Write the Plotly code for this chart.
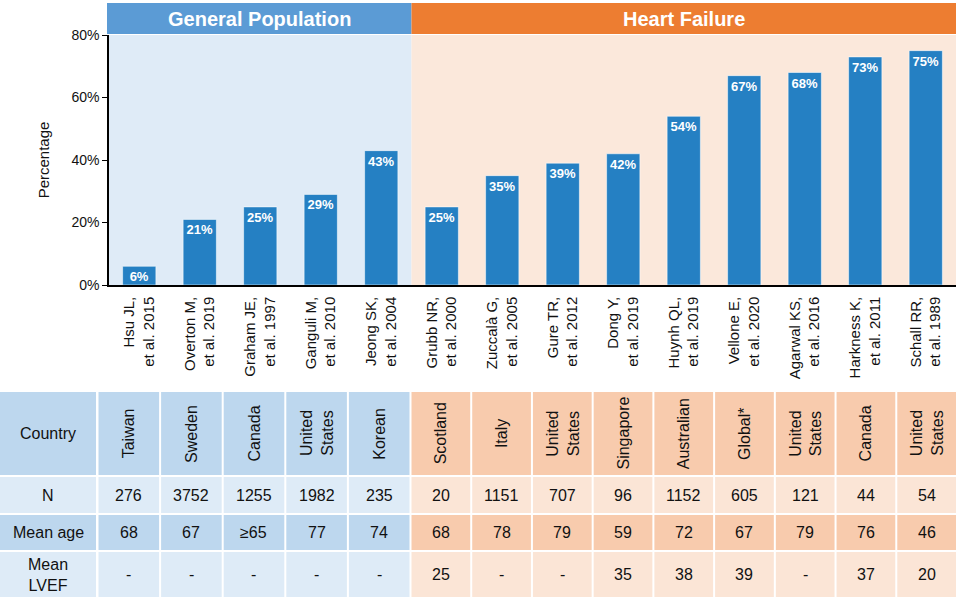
import plotly.graph_objects as go

# ---------------- data ----------------
authors = ["Hsu JL,", "Overton M,", "Graham JE,", "Ganguli M,", "Jeong SK,",
           "Grubb NR,", "Zuccalà G,", "Gure TR,", "Dong Y,", "Huynh QL,",
           "Vellone E,", "Agarwal KS,", "Harkness K,", "Schall RR,"]
years = ["2015", "2019", "1997", "2010", "2004",
         "2000", "2005", "2012", "2019", "2019",
         "2020", "2016", "2011", "1989"]
percent = [6, 21, 25, 29, 43, 25, 35, 39, 42, 54, 67, 68, 73, 75]
groups = ["General Population", "Heart Failure"]
group_sizes = [5, 9]
countries = ["Taiwan", "Sweden", "Canada", "United<br>States", "Korean",
             "Scotland", "Italy", "United<br>States", "Singapore", "Australian",
             "Global*", "United<br>States", "Canada", "United<br>States"]
n_values = ["276", "3752", "1255", "1982", "235",
            "20", "1151", "707", "96", "1152", "605", "121", "44", "54"]
mean_age = ["68", "67", "≥65", "77", "74",
            "68", "78", "79", "59", "72", "67", "79", "76", "46"]
mean_lvef = ["-", "-", "-", "-", "-",
             "25", "-", "-", "35", "38", "39", "-", "37", "20"]
row_labels = ["Country", "N", "Mean age", "Mean<br>LVEF"]
y_ticks = [0, 20, 40, 60, 80]

# ---------------- styling ----------------
W, H = 957, 600
FONT = "Liberation Sans, Arial, Helvetica, sans-serif"
BAR = "#2580C3"
HEAD = {"General Population": "#5B9BD5", "Heart Failure": "#ED7D31"}
BG = {"General Population": "#DFEBF7", "Heart Failure": "#FBE8DB"}
CELL_DARK = {"General Population": "#BDD7EE", "Heart Failure": "#F8CBAD"}
CELL_LIGHT = {"General Population": "#DEEBF7", "Heart Failure": "#FBE5D6"}


def px(x):
    return x / W


def py(y):
    return 1 - y / H


plot_l, plot_r, plot_t, plot_b = 109, 956, 35, 285

labels = [f"{a}<br>et al. {y}" for a, y in zip(authors, years)]

fig = go.Figure()
fig.add_trace(go.Bar(
    x=labels, y=percent,
    marker=dict(color=BAR, line=dict(color="rgba(255,255,255,0.55)", width=1)),
    text=[f"{v}%" for v in percent],
    textposition="inside", insidetextanchor="end",
    textfont=dict(color="white", size=13, family=FONT, weight="bold"),
    cliponaxis=False, showlegend=False, hoverinfo="skip",
))

shapes = []
annotations = []

# group backgrounds + header bars
start = 0
step = (plot_r - plot_l) / len(percent)
for g, size in zip(groups, group_sizes):
    shapes.append(dict(type="rect", xref="x", yref="y", x0=start - 0.5, x1=start + size - 0.5,
                       y0=0, y1=80, fillcolor=BG[g], line=dict(width=0), layer="below"))
    hx0 = plot_l + start * step - (2 if start == 0 else 0)
    hx1 = plot_l + (start + size) * step
    shapes.append(dict(type="rect", xref="paper", yref="paper", x0=px(hx0), x1=px(hx1),
                       y0=py(34), y1=py(3), fillcolor=HEAD[g], line=dict(width=0)))
    annotations.append(dict(xref="paper", yref="paper", x=px((hx0 + hx1) / 2), y=py(19),
                            text=f"<b>{g}</b>", showarrow=False,
                            font=dict(color="white", size=20, family=FONT),
                            xanchor="center", yanchor="middle"))
    start += size

# ---------------- table ----------------
rows_y = [(392, 475), (477, 513), (515, 550), (552, 597)]
row_data = [countries, n_values, mean_age, mean_lvef]
label_col = (0, 96)
group_bounds = [(97.5, 410.5), (410.5, 957)]
gap = 1

col_bounds = []
for (gx0, gx1), size in zip(group_bounds, group_sizes):
    w = (gx1 - gx0) / size
    for k in range(size):
        col_bounds.append((gx0 + k * w, gx0 + (k + 1) * w))
col_group = []
for g, size in zip(groups, group_sizes):
    col_group += [g] * size

for r, (y0, y1) in enumerate(rows_y):
    dark = (r % 2 == 0)
    lc = CELL_DARK["General Population"] if dark else CELL_LIGHT["General Population"]
    shapes.append(dict(type="rect", xref="paper", yref="paper",
                       x0=px(label_col[0]), x1=px(label_col[1]), y0=py(y1), y1=py(y0),
                       fillcolor=lc, line=dict(width=0)))
    annotations.append(dict(xref="paper", yref="paper", x=px(sum(label_col) / 2), y=py((y0 + y1) / 2),
                            text=row_labels[r], showarrow=False, align="center",
                            font=dict(color="#111111", size=16, family=FONT),
                            xanchor="center", yanchor="middle"))
    for c, (cx0, cx1) in enumerate(col_bounds):
        g = col_group[c]
        fc = CELL_DARK[g] if dark else CELL_LIGHT[g]
        shapes.append(dict(type="rect", xref="paper", yref="paper",
                           x0=px(cx0 + gap), x1=px(cx1 - gap), y0=py(y1), y1=py(y0),
                           fillcolor=fc, line=dict(width=0)))
        annotations.append(dict(xref="paper", yref="paper", x=px((cx0 + cx1) / 2), y=py((y0 + y1) / 2),
                                text=row_data[r][c], showarrow=False, align="center",
                                textangle=-90 if r == 0 else 0,
                                font=dict(color="#111111", size=16, family=FONT),
                                xanchor="center", yanchor="middle"))

fig.update_layout(
    width=W, height=H,
    margin=dict(l=0, r=0, t=0, b=0),
    paper_bgcolor="white", plot_bgcolor="white",
    font=dict(family=FONT, color="#111111"),
    bargap=0.45,
    shapes=shapes, annotations=annotations,
    uniformtext=dict(minsize=12, mode="show"),
    xaxis=dict(domain=[px(plot_l), px(plot_r)], range=[-0.5, len(percent) - 0.5],
               showline=True, linecolor="black", linewidth=1.5,
               tickangle=-90, ticks="", tickfont=dict(size=15, family=FONT, color="#111111"),
               ticklabelstandoff=4, automargin=False, showgrid=False, fixedrange=True),
    yaxis=dict(domain=[py(plot_b), py(plot_t)], range=[0, 80],
               tickvals=y_ticks, ticktext=[f"{v}%" for v in y_ticks],
               showline=True, linecolor="black", linewidth=1.5,
               ticks="outside", ticklen=5, tickcolor="black",
               tickfont=dict(size=14, family=FONT, color="#111111"),
               title=dict(text="Percentage", font=dict(size=15, family=FONT, color="#111111"), standoff=18),
               automargin=False, showgrid=False, zeroline=False, fixedrange=True),
)

fig.write_html("out.html", config={"displayModeBar": False},
               post_script="document.body.style.margin='0';document.body.style.overflow='hidden';")
